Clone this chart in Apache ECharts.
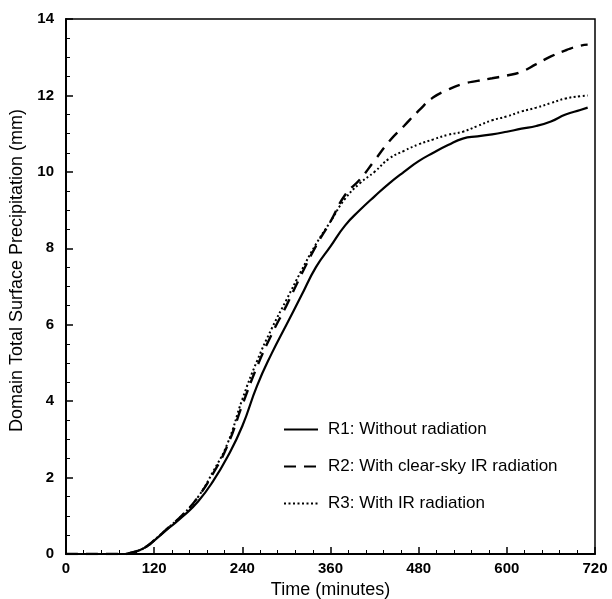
<!DOCTYPE html>
<html>
<head>
<meta charset="utf-8">
<script src="https://cdn.jsdelivr.net/npm/echarts@6/dist/echarts.min.js"></script>
<style>
  html, body { margin: 0; padding: 0; background: #fff; }
  #chart { width: 612px; height: 599px; }
</style>
</head>
<body>
<div id="chart"></div>
<script>
// time (minutes)
var times = [0, 60, 80, 90, 100, 110, 120, 140, 160, 180, 200, 220, 240, 260, 280, 300, 320, 340, 360,
    380, 400, 420, 440, 460, 480, 500, 520, 540, 560, 580, 600, 620, 640, 660, 680, 700, 710];

// precipitation (mm)
var r1 = [0, 0, 0, 0.04, 0.1, 0.2, 0.35, 0.68, 1.0, 1.38, 1.9, 2.55, 3.35, 4.4, 5.25, 6.0, 6.75, 7.5, 8.05,
    8.6, 9.0, 9.36, 9.7, 10.0, 10.28, 10.5, 10.7, 10.87, 10.93, 10.98, 11.05, 11.13, 11.2, 11.32, 11.5, 11.62, 11.68];
var r2 = [0, 0, 0, 0.04, 0.1, 0.2, 0.36, 0.7, 1.05, 1.5, 2.1, 2.85, 3.9, 4.9, 5.75, 6.5, 7.3, 8.05, 8.7,
    9.4, 9.8, 10.3, 10.8, 11.2, 11.6, 11.95, 12.15, 12.3, 12.38, 12.45, 12.52, 12.62, 12.82, 13.02, 13.18, 13.3, 13.33];
var r3 = [0, 0, 0, 0.04, 0.1, 0.2, 0.36, 0.7, 1.05, 1.5, 2.15, 2.9, 4.05, 5.05, 5.9, 6.65, 7.4, 8.1, 8.7,
    9.3, 9.7, 10.0, 10.35, 10.55, 10.72, 10.85, 10.97, 11.05, 11.2, 11.35, 11.45, 11.58, 11.68, 11.8, 11.92, 11.98, 12.0];

var names = ['R1: Without radiation', 'R2: With clear-sky IR radiation', 'R3: With IR radiation'];

function pairs(ys) {
    return times.map(function (t, i) { return [t, ys[i]]; });
}

var mychart = echarts.init(document.getElementById('chart'));

var axisText = { color: '#000', fontFamily: 'Liberation Sans', fontSize: 15, fontWeight: 'bold' };

var option = {
    animation: false,
    backgroundColor: '#fff',
    grid: {
        left: 66, right: 17, top: 19, bottom: 45,
        outerBoundsMode: 'none',
        show: true, borderColor: '#000', borderWidth: 1.5
    },
    legend: {
        orient: 'vertical',
        left: 278,
        top: 416,
        itemWidth: 34,
        itemHeight: 18,
        itemGap: 20,
        data: names,
        itemStyle: { opacity: 0 },
        textStyle: { color: '#000', fontFamily: 'Liberation Sans', fontSize: 17, padding: [0, 0, 0, 5] }
    },
    xAxis: {
        type: 'value',
        min: 0, max: 720, interval: 120,
        name: 'Time (minutes)',
        nameLocation: 'middle',
        nameGap: 26,
        nameTextStyle: { color: '#000', fontFamily: 'Liberation Sans', fontSize: 18 },
        axisLine: { lineStyle: { color: '#000', width: 2 } },
        axisTick: { inside: true, length: 7, lineStyle: { color: '#000', width: 1.5 } },
        minorTick: { show: true, splitNumber: 5, length: 4, lineStyle: { color: '#000', width: 1 } },
        axisLabel: Object.assign({ margin: 7 }, axisText),
        splitLine: { show: false }
    },
    yAxis: {
        type: 'value',
        min: 0, max: 14, interval: 2,
        name: 'Domain Total Surface Precipitation (mm)',
        nameLocation: 'middle',
        nameGap: 38,
        nameTextStyle: { color: '#000', fontFamily: 'Liberation Sans', fontSize: 18, padding: [0, 0, 0, 32] },
        axisLine: { lineStyle: { color: '#000', width: 2 } },
        axisTick: { inside: true, length: 7, lineStyle: { color: '#000', width: 1.5 } },
        minorTick: { show: true, splitNumber: 4, length: 4, lineStyle: { color: '#000', width: 1 } },
        axisLabel: Object.assign({ margin: 12 }, axisText),
        splitLine: { show: false }
    },
    series: [
        {
            name: names[0], type: 'line', smooth: true, symbol: 'none',
            lineStyle: { color: '#000', width: 2.2, type: 'solid' },
            itemStyle: { color: '#000' },
            data: pairs(r1)
        },
        {
            name: names[1], type: 'line', smooth: true, symbol: 'none',
            lineStyle: { color: '#000', width: 2.4, type: [12, 8] },
            itemStyle: { color: '#000' },
            data: pairs(r2)
        },
        {
            name: names[2], type: 'line', smooth: true, symbol: 'none',
            lineStyle: { color: '#000', width: 2, type: [2, 2.5] },
            itemStyle: { color: '#000' },
            data: pairs(r3)
        }
    ]
};

mychart.setOption(option);
</script>
</body>
</html>
